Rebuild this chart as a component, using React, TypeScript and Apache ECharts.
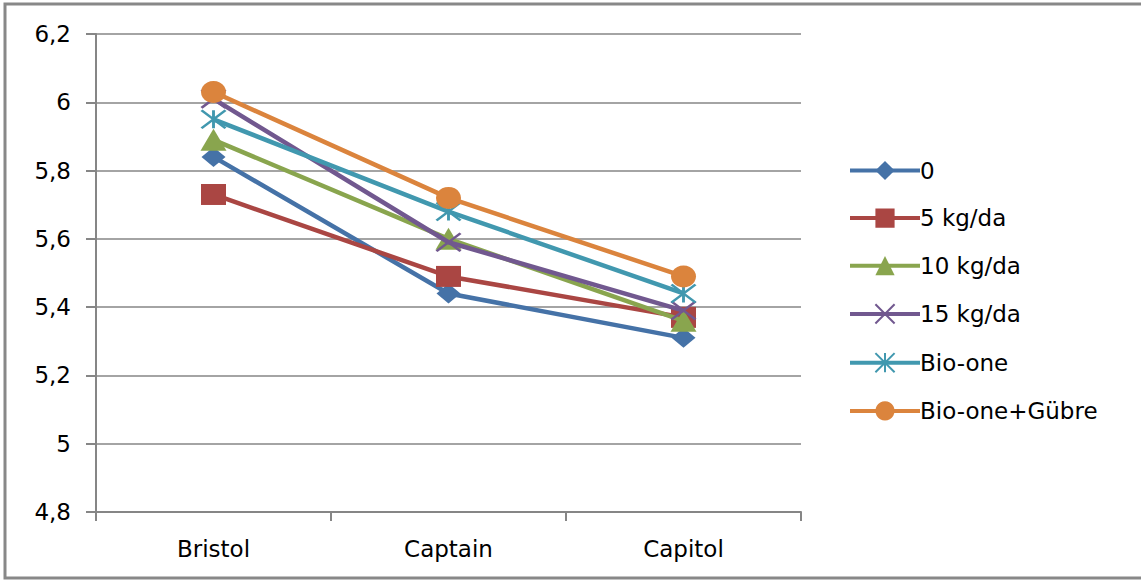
import React, { useEffect, useRef } from "react";
import * as echarts from "echarts";

// Varieties along the x axis
const categories = ["Bristol", "Captain", "Capitol"];

// Treatment series
const s0 = [5.84, 5.44, 5.31];
const s5 = [5.73, 5.49, 5.37];
const s10 = [5.89, 5.6, 5.36];
const s15 = [6.01, 5.59, 5.39];
const sBio = [5.95, 5.68, 5.44];
const sBioG = [6.03, 5.72, 5.49];

const seriesNames = ["0", "5 kg/da", "10 kg/da", "15 kg/da", "Bio-one", "Bio-one+Gübre"];
const seriesData = [s0, s5, s10, s15, sBio, sBioG];
const colors = ["#4572A7", "#AA4643", "#89A54E", "#71588F", "#4198AF", "#DB843D"];

const crossPath = "path://M0,0 L10,10 M10,0 L0,10";
const starPath = "path://M0,0 L10,10 M10,0 L0,10 M5,0 L5,10";

const symbols = ["diamond", "rect", "triangle", crossPath, starPath, "circle"];
const symbolSizes: [number, number][] = [
  [24, 20],
  [25, 21],
  [26, 22],
  [24, 18],
  [24, 18],
  [25, 22],
];

const FONT = "'DejaVu Sans', sans-serif";

export default function App() {
  const ref = useRef<HTMLDivElement>(null);

  useEffect(() => {
    if (!ref.current) return;
    const chart = echarts.init(ref.current, undefined, { renderer: "svg" });
    const option: any = {
      animation: false,
      backgroundColor: "#fff",
      grid: { left: 96, top: 34, width: 705, height: 478, containLabel: false },
      legend: {
        orient: "vertical",
        left: 843,
        top: 154,
        itemWidth: 70,
        itemHeight: 24,
        itemGap: 24.6,
        lineStyle: { width: 4 },
        textStyle: { fontFamily: FONT, fontSize: 23, color: "#000", padding: [0, 0, 0, -5] },
        data: seriesNames,
      },
      xAxis: {
        type: "category",
        data: categories,
        boundaryGap: true,
        axisLine: { lineStyle: { color: "#868686", width: 2 } },
        axisTick: { show: true, length: 9, lineStyle: { color: "#868686", width: 2 } },
        axisLabel: { fontFamily: FONT, fontSize: 23, color: "#000", margin: 25 },
        splitLine: { show: false },
      },
      yAxis: {
        type: "value",
        min: 4.8,
        max: 6.2,
        interval: 0.2,
        axisLine: { show: true, lineStyle: { color: "#868686", width: 2 } },
        axisTick: { show: true, length: 10, lineStyle: { color: "#868686", width: 2 } },
        axisLabel: {
          fontFamily: FONT,
          fontSize: 23,
          color: "#000",
          margin: 25,
          formatter: (v: number) => {
            const r = Math.round(v * 10) / 10;
            return String(r).replace(".", ",");
          },
        },
        splitLine: { show: true, lineStyle: { color: "#868686", width: 1.5 } },
      },
      graphic: [
        {
          type: "rect",
          shape: { x: 5, y: 4, width: 1145, height: 574 },
          style: { fill: "none", stroke: "#888", lineWidth: 3 },
          silent: true,
          z: 100,
        },
      ],
      series: seriesData.map((d, i) => ({
        name: seriesNames[i],
        type: "line",
        data: d,
        symbol: symbols[i],
        symbolSize: symbolSizes[i],
        showAllSymbol: true,
        color: colors[i],
        lineStyle: { color: colors[i], width: 4.5 },
        itemStyle:
          i === 3 || i === 4
            ? { color: "none", borderColor: colors[i], borderWidth: 2.5 }
            : { color: colors[i], borderWidth: 0 },
        emphasis: { disabled: true },
        z: 2 + i,
      })),
    };
    chart.setOption(option);
    return () => chart.dispose();
  }, []);

  return (
    <div
      ref={ref}
      style={{ position: "absolute", left: 0, top: 0, width: 1141, height: 581 }}
    />
  );
}
